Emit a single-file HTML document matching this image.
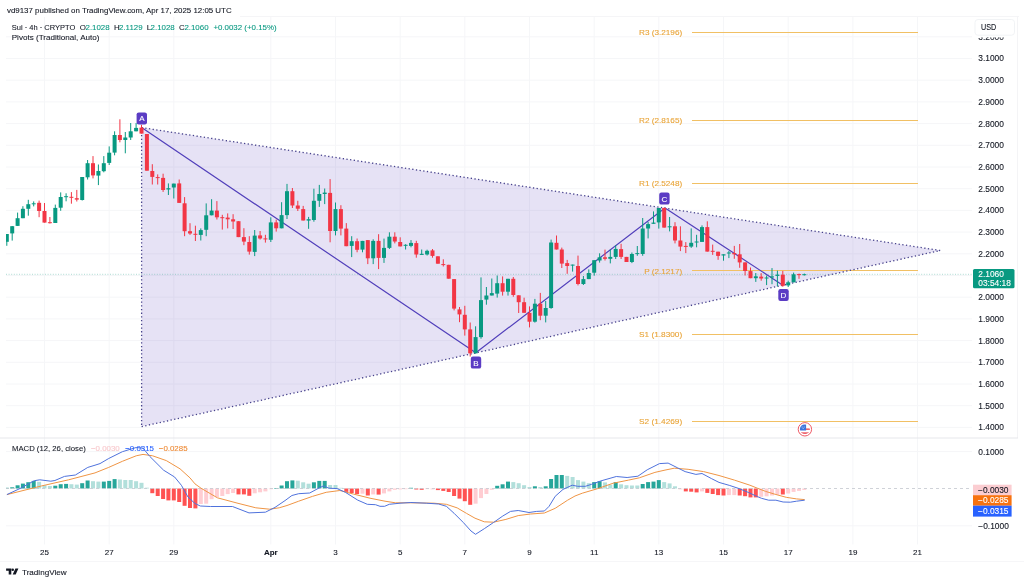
<!DOCTYPE html>
<html><head><meta charset="utf-8"><title>Sui 4h chart</title>
<style>
html,body{margin:0;padding:0;background:#fff;}
body{width:1024px;height:583px;overflow:hidden;position:relative;font-family:"Liberation Sans", Arial, sans-serif;}
svg{position:absolute;left:0;top:0;will-change:transform;}
svg text{font-family:"Liberation Sans", Arial, sans-serif;}
</style></head><body>
<svg width="1024" height="583" viewBox="0 0 1024 583">
<rect x="0" y="0" width="1024" height="583" fill="#fff"/>

<line x1="0" y1="561.5" x2="1024" y2="561.5" stroke="#f6f6f8" stroke-width="1"/>
<line x1="240" y1="16.5" x2="1019" y2="16.5" stroke="#f5f5f7" stroke-width="1"/>
<line x1="1017.5" y1="16" x2="1017.5" y2="438" stroke="#f4f4f6" stroke-width="1"/>
<line x1="6" y1="427.4" x2="972" y2="427.4" stroke="#f5f6f8" stroke-width="1"/>
<line x1="6" y1="405.7" x2="972" y2="405.7" stroke="#f5f6f8" stroke-width="1"/>
<line x1="6" y1="384.0" x2="972" y2="384.0" stroke="#f5f6f8" stroke-width="1"/>
<line x1="6" y1="362.3" x2="972" y2="362.3" stroke="#f5f6f8" stroke-width="1"/>
<line x1="6" y1="340.6" x2="972" y2="340.6" stroke="#f5f6f8" stroke-width="1"/>
<line x1="6" y1="318.9" x2="972" y2="318.9" stroke="#f5f6f8" stroke-width="1"/>
<line x1="6" y1="297.2" x2="972" y2="297.2" stroke="#f5f6f8" stroke-width="1"/>
<line x1="6" y1="275.5" x2="972" y2="275.5" stroke="#f5f6f8" stroke-width="1"/>
<line x1="6" y1="253.8" x2="972" y2="253.8" stroke="#f5f6f8" stroke-width="1"/>
<line x1="6" y1="232.1" x2="972" y2="232.1" stroke="#f5f6f8" stroke-width="1"/>
<line x1="6" y1="210.4" x2="972" y2="210.4" stroke="#f5f6f8" stroke-width="1"/>
<line x1="6" y1="188.7" x2="972" y2="188.7" stroke="#f5f6f8" stroke-width="1"/>
<line x1="6" y1="167.0" x2="972" y2="167.0" stroke="#f5f6f8" stroke-width="1"/>
<line x1="6" y1="145.3" x2="972" y2="145.3" stroke="#f5f6f8" stroke-width="1"/>
<line x1="6" y1="123.6" x2="972" y2="123.6" stroke="#f5f6f8" stroke-width="1"/>
<line x1="6" y1="101.9" x2="972" y2="101.9" stroke="#f5f6f8" stroke-width="1"/>
<line x1="6" y1="80.2" x2="972" y2="80.2" stroke="#f5f6f8" stroke-width="1"/>
<line x1="6" y1="58.5" x2="972" y2="58.5" stroke="#f5f6f8" stroke-width="1"/>
<line x1="6" y1="36.8" x2="972" y2="36.8" stroke="#f5f6f8" stroke-width="1"/>
<line x1="6" y1="451.6" x2="972" y2="451.6" stroke="#f5f6f8" stroke-width="1"/>
<line x1="6" y1="525.8" x2="972" y2="525.8" stroke="#f5f6f8" stroke-width="1"/>
<line x1="44.5" y1="17" x2="44.5" y2="544.5" stroke="#f5f6f8" stroke-width="1"/>
<line x1="109.2" y1="17" x2="109.2" y2="544.5" stroke="#f5f6f8" stroke-width="1"/>
<line x1="173.8" y1="17" x2="173.8" y2="544.5" stroke="#f5f6f8" stroke-width="1"/>
<line x1="270.8" y1="17" x2="270.8" y2="544.5" stroke="#f5f6f8" stroke-width="1"/>
<line x1="335.5" y1="17" x2="335.5" y2="544.5" stroke="#f5f6f8" stroke-width="1"/>
<line x1="400.2" y1="17" x2="400.2" y2="544.5" stroke="#f5f6f8" stroke-width="1"/>
<line x1="464.8" y1="17" x2="464.8" y2="544.5" stroke="#f5f6f8" stroke-width="1"/>
<line x1="529.5" y1="17" x2="529.5" y2="544.5" stroke="#f5f6f8" stroke-width="1"/>
<line x1="594.2" y1="17" x2="594.2" y2="544.5" stroke="#f5f6f8" stroke-width="1"/>
<line x1="658.8" y1="17" x2="658.8" y2="544.5" stroke="#f5f6f8" stroke-width="1"/>
<line x1="723.5" y1="17" x2="723.5" y2="544.5" stroke="#f5f6f8" stroke-width="1"/>
<line x1="788.2" y1="17" x2="788.2" y2="544.5" stroke="#f5f6f8" stroke-width="1"/>
<line x1="852.9" y1="17" x2="852.9" y2="544.5" stroke="#f5f6f8" stroke-width="1"/>
<line x1="917.5" y1="17" x2="917.5" y2="544.5" stroke="#f5f6f8" stroke-width="1"/>
<line x1="0" y1="438" x2="1018" y2="438" stroke="#e6e7eb" stroke-width="1"/>
<defs><clipPath id="mainclip"><rect x="6" y="17" width="966" height="420.5"/></clipPath><clipPath id="macdclip"><rect x="6" y="438.5" width="966" height="106"/></clipPath></defs>
<g clip-path="url(#mainclip)">
<polygon points="141.6,127.6 940.2,250.5 141.6,426.6" fill="rgb(88,62,188)" fill-opacity="0.15"/>
<line x1="692" y1="32.5" x2="918" y2="32.5" stroke="#f1c064" stroke-width="1"/>
<text x="682.2" y="35.3" font-size="8" fill="#e9a53a" stroke="#e9a53a" stroke-width="0.12" text-anchor="end" textLength="43.2" lengthAdjust="spacingAndGlyphs">R3 (3.2196)</text>
<line x1="692" y1="120.5" x2="918" y2="120.5" stroke="#f1c064" stroke-width="1"/>
<text x="682.2" y="122.8" font-size="8" fill="#e9a53a" stroke="#e9a53a" stroke-width="0.12" text-anchor="end" textLength="43.2" lengthAdjust="spacingAndGlyphs">R2 (2.8165)</text>
<line x1="692" y1="183.5" x2="918" y2="183.5" stroke="#f1c064" stroke-width="1"/>
<text x="682.2" y="186.1" font-size="8" fill="#e9a53a" stroke="#e9a53a" stroke-width="0.12" text-anchor="end" textLength="43.2" lengthAdjust="spacingAndGlyphs">R1 (2.5248)</text>
<line x1="692" y1="270.5" x2="918" y2="270.5" stroke="#f1c064" stroke-width="1"/>
<text x="682.2" y="273.6" font-size="8" fill="#e9a53a" stroke="#e9a53a" stroke-width="0.12" text-anchor="end" textLength="38" lengthAdjust="spacingAndGlyphs">P (2.1217)</text>
<line x1="692" y1="334.5" x2="918" y2="334.5" stroke="#f1c064" stroke-width="1"/>
<text x="682.2" y="336.9" font-size="8" fill="#e9a53a" stroke="#e9a53a" stroke-width="0.12" text-anchor="end" textLength="43.2" lengthAdjust="spacingAndGlyphs">S1 (1.8300)</text>
<line x1="692" y1="421.5" x2="918" y2="421.5" stroke="#f1c064" stroke-width="1"/>
<text x="682.2" y="424.4" font-size="8" fill="#e9a53a" stroke="#e9a53a" stroke-width="0.12" text-anchor="end" textLength="43.2" lengthAdjust="spacingAndGlyphs">S2 (1.4269)</text>
<line x1="6" y1="274.3" x2="972" y2="274.3" stroke="#3aa893" stroke-width="0.7" stroke-dasharray="1 1.6" opacity="0.6"/>
<line x1="141.6" y1="127.6" x2="940.2" y2="250.5" stroke="#47428c" stroke-width="1.3" stroke-dasharray="1.3 2.4"/>
<line x1="141.6" y1="426.6" x2="940.2" y2="250.5" stroke="#47428c" stroke-width="1.3" stroke-dasharray="1.3 2.4"/>
<line x1="141.6" y1="127.6" x2="141.6" y2="426.6" stroke="#47428c" stroke-width="1.3" stroke-dasharray="1.3 2.4"/>
<polyline points="141.6,127.6 475.8,352.8 665,207.9 782.8,285.2" fill="none" stroke="#5240bb" stroke-width="1.2"/>
<line x1="6.8" y1="234.0" x2="6.8" y2="245.8" stroke="#089981" stroke-width="1"/>
<rect x="4.8" y="234.0" width="4" height="7.8" fill="#089981"/>
<line x1="12.2" y1="226.0" x2="12.2" y2="240.6" stroke="#089981" stroke-width="1"/>
<rect x="10.2" y="226.2" width="4" height="7.2" fill="#089981"/>
<line x1="17.6" y1="212.6" x2="17.6" y2="226.0" stroke="#089981" stroke-width="1"/>
<rect x="15.6" y="218.2" width="4" height="7.7" fill="#089981"/>
<line x1="22.9" y1="206.2" x2="22.9" y2="218.2" stroke="#089981" stroke-width="1"/>
<rect x="20.9" y="208.8" width="4" height="9.4" fill="#089981"/>
<line x1="28.3" y1="199.8" x2="28.3" y2="215.7" stroke="#089981" stroke-width="1"/>
<rect x="26.3" y="204.2" width="4" height="4.6" fill="#089981"/>
<line x1="33.7" y1="201.4" x2="33.7" y2="206.4" stroke="#089981" stroke-width="1"/>
<rect x="31.7" y="203.3" width="4" height="1.0" fill="#089981"/>
<line x1="39.1" y1="200.6" x2="39.1" y2="217.2" stroke="#f23645" stroke-width="1"/>
<rect x="37.1" y="202.8" width="4" height="8.2" fill="#f23645"/>
<line x1="44.5" y1="203.0" x2="44.5" y2="222.6" stroke="#f23645" stroke-width="1"/>
<rect x="42.5" y="211.0" width="4" height="11.6" fill="#f23645"/>
<line x1="49.9" y1="217.0" x2="49.9" y2="223.5" stroke="#f23645" stroke-width="1"/>
<rect x="47.9" y="222.2" width="4" height="1.0" fill="#f23645"/>
<line x1="55.3" y1="204.6" x2="55.3" y2="223.0" stroke="#089981" stroke-width="1"/>
<rect x="53.3" y="207.9" width="4" height="15.1" fill="#089981"/>
<line x1="60.7" y1="192.4" x2="60.7" y2="210.8" stroke="#089981" stroke-width="1"/>
<rect x="58.7" y="197.0" width="4" height="10.7" fill="#089981"/>
<line x1="66.1" y1="193.3" x2="66.1" y2="201.3" stroke="#089981" stroke-width="1"/>
<rect x="64.1" y="196.2" width="4" height="1.0" fill="#089981"/>
<line x1="71.4" y1="192.1" x2="71.4" y2="203.7" stroke="#f23645" stroke-width="1"/>
<rect x="69.4" y="196.8" width="4" height="1.0" fill="#f23645"/>
<line x1="76.8" y1="189.9" x2="76.8" y2="201.5" stroke="#f23645" stroke-width="1"/>
<rect x="74.8" y="198.2" width="4" height="1.4" fill="#f23645"/>
<line x1="82.2" y1="177.0" x2="82.2" y2="200.5" stroke="#089981" stroke-width="1"/>
<rect x="80.2" y="177.0" width="4" height="23.0" fill="#089981"/>
<line x1="87.6" y1="160.0" x2="87.6" y2="179.5" stroke="#089981" stroke-width="1"/>
<rect x="85.6" y="163.2" width="4" height="14.1" fill="#089981"/>
<line x1="93.0" y1="156.1" x2="93.0" y2="178.4" stroke="#f23645" stroke-width="1"/>
<rect x="91.0" y="163.2" width="4" height="12.2" fill="#f23645"/>
<line x1="98.4" y1="164.5" x2="98.4" y2="185.1" stroke="#089981" stroke-width="1"/>
<rect x="96.4" y="171.0" width="4" height="4.6" fill="#089981"/>
<line x1="103.8" y1="156.1" x2="103.8" y2="172.3" stroke="#089981" stroke-width="1"/>
<rect x="101.8" y="163.2" width="4" height="8.0" fill="#089981"/>
<line x1="109.2" y1="146.4" x2="109.2" y2="165.0" stroke="#089981" stroke-width="1"/>
<rect x="107.2" y="152.7" width="4" height="10.2" fill="#089981"/>
<line x1="114.6" y1="131.3" x2="114.6" y2="155.3" stroke="#089981" stroke-width="1"/>
<rect x="112.6" y="135.0" width="4" height="17.6" fill="#089981"/>
<line x1="119.9" y1="119.3" x2="119.9" y2="142.3" stroke="#f23645" stroke-width="1"/>
<rect x="117.9" y="135.0" width="4" height="5.0" fill="#f23645"/>
<line x1="125.3" y1="132.0" x2="125.3" y2="153.3" stroke="#089981" stroke-width="1"/>
<rect x="123.3" y="137.5" width="4" height="2.5" fill="#089981"/>
<line x1="130.7" y1="123.0" x2="130.7" y2="140.0" stroke="#089981" stroke-width="1"/>
<rect x="128.7" y="131.3" width="4" height="6.2" fill="#089981"/>
<line x1="136.1" y1="123.0" x2="136.1" y2="131.3" stroke="#089981" stroke-width="1"/>
<rect x="134.1" y="127.9" width="4" height="3.4" fill="#089981"/>
<line x1="141.5" y1="124.8" x2="141.5" y2="133.6" stroke="#f23645" stroke-width="1"/>
<rect x="139.5" y="127.6" width="4" height="6.0" fill="#f23645"/>
<line x1="146.9" y1="134.0" x2="146.9" y2="170.7" stroke="#f23645" stroke-width="1"/>
<rect x="144.9" y="134.0" width="4" height="36.7" fill="#f23645"/>
<line x1="152.3" y1="164.2" x2="152.3" y2="184.5" stroke="#f23645" stroke-width="1"/>
<rect x="150.3" y="171.0" width="4" height="5.9" fill="#f23645"/>
<line x1="157.7" y1="174.4" x2="157.7" y2="184.5" stroke="#f23645" stroke-width="1"/>
<rect x="155.7" y="177.1" width="4" height="1.0" fill="#f23645"/>
<line x1="163.1" y1="173.7" x2="163.1" y2="191.9" stroke="#f23645" stroke-width="1"/>
<rect x="161.1" y="177.9" width="4" height="12.1" fill="#f23645"/>
<line x1="168.4" y1="183.4" x2="168.4" y2="195.0" stroke="#089981" stroke-width="1"/>
<rect x="166.4" y="188.2" width="4" height="1.3" fill="#089981"/>
<line x1="173.8" y1="183.6" x2="173.8" y2="198.5" stroke="#089981" stroke-width="1"/>
<rect x="171.8" y="183.6" width="4" height="3.9" fill="#089981"/>
<line x1="179.2" y1="179.5" x2="179.2" y2="202.9" stroke="#f23645" stroke-width="1"/>
<rect x="177.2" y="183.4" width="4" height="19.5" fill="#f23645"/>
<line x1="184.6" y1="197.1" x2="184.6" y2="236.2" stroke="#f23645" stroke-width="1"/>
<rect x="182.6" y="203.3" width="4" height="27.9" fill="#f23645"/>
<line x1="190.0" y1="223.2" x2="190.0" y2="234.9" stroke="#f23645" stroke-width="1"/>
<rect x="188.0" y="231.2" width="4" height="2.3" fill="#f23645"/>
<line x1="195.4" y1="225.7" x2="195.4" y2="241.0" stroke="#f23645" stroke-width="1"/>
<rect x="193.4" y="233.8" width="4" height="1.0" fill="#f23645"/>
<line x1="200.8" y1="228.4" x2="200.8" y2="240.5" stroke="#089981" stroke-width="1"/>
<rect x="198.8" y="230.1" width="4" height="4.8" fill="#089981"/>
<line x1="206.2" y1="203.4" x2="206.2" y2="236.2" stroke="#089981" stroke-width="1"/>
<rect x="204.2" y="215.3" width="4" height="14.5" fill="#089981"/>
<line x1="211.6" y1="199.2" x2="211.6" y2="215.3" stroke="#089981" stroke-width="1"/>
<rect x="209.6" y="210.6" width="4" height="4.7" fill="#089981"/>
<line x1="216.9" y1="201.1" x2="216.9" y2="219.5" stroke="#f23645" stroke-width="1"/>
<rect x="214.9" y="210.6" width="4" height="6.7" fill="#f23645"/>
<line x1="222.3" y1="214.8" x2="222.3" y2="229.6" stroke="#f23645" stroke-width="1"/>
<rect x="220.3" y="217.2" width="4" height="1.0" fill="#f23645"/>
<line x1="227.7" y1="213.4" x2="227.7" y2="228.4" stroke="#f23645" stroke-width="1"/>
<rect x="225.7" y="217.6" width="4" height="1.7" fill="#f23645"/>
<line x1="233.1" y1="214.2" x2="233.1" y2="229.0" stroke="#f23645" stroke-width="1"/>
<rect x="231.1" y="219.3" width="4" height="2.2" fill="#f23645"/>
<line x1="238.5" y1="221.2" x2="238.5" y2="237.1" stroke="#f23645" stroke-width="1"/>
<rect x="236.5" y="221.2" width="4" height="15.9" fill="#f23645"/>
<line x1="243.9" y1="228.2" x2="243.9" y2="245.2" stroke="#f23645" stroke-width="1"/>
<rect x="241.9" y="237.1" width="4" height="4.5" fill="#f23645"/>
<line x1="249.3" y1="236.2" x2="249.3" y2="254.6" stroke="#f23645" stroke-width="1"/>
<rect x="247.3" y="242.0" width="4" height="9.6" fill="#f23645"/>
<line x1="254.7" y1="230.0" x2="254.7" y2="256.1" stroke="#089981" stroke-width="1"/>
<rect x="252.7" y="235.6" width="4" height="16.3" fill="#089981"/>
<line x1="260.1" y1="231.0" x2="260.1" y2="239.6" stroke="#f23645" stroke-width="1"/>
<rect x="258.1" y="235.4" width="4" height="3.1" fill="#f23645"/>
<line x1="265.4" y1="234.8" x2="265.4" y2="242.6" stroke="#f23645" stroke-width="1"/>
<rect x="263.4" y="238.4" width="4" height="1.0" fill="#f23645"/>
<line x1="270.8" y1="217.3" x2="270.8" y2="242.0" stroke="#089981" stroke-width="1"/>
<rect x="268.8" y="222.4" width="4" height="17.4" fill="#089981"/>
<line x1="276.2" y1="219.6" x2="276.2" y2="231.6" stroke="#f23645" stroke-width="1"/>
<rect x="274.2" y="222.4" width="4" height="5.9" fill="#f23645"/>
<line x1="281.6" y1="202.2" x2="281.6" y2="228.3" stroke="#089981" stroke-width="1"/>
<rect x="279.6" y="215.1" width="4" height="13.2" fill="#089981"/>
<line x1="287.0" y1="183.9" x2="287.0" y2="219.0" stroke="#089981" stroke-width="1"/>
<rect x="285.0" y="191.2" width="4" height="23.9" fill="#089981"/>
<line x1="292.4" y1="188.0" x2="292.4" y2="208.0" stroke="#f23645" stroke-width="1"/>
<rect x="290.4" y="191.2" width="4" height="14.3" fill="#f23645"/>
<line x1="297.8" y1="200.8" x2="297.8" y2="211.0" stroke="#f23645" stroke-width="1"/>
<rect x="295.8" y="205.5" width="4" height="3.2" fill="#f23645"/>
<line x1="303.2" y1="205.9" x2="303.2" y2="220.5" stroke="#f23645" stroke-width="1"/>
<rect x="301.2" y="209.1" width="4" height="11.4" fill="#f23645"/>
<line x1="308.6" y1="216.9" x2="308.6" y2="228.8" stroke="#089981" stroke-width="1"/>
<rect x="306.6" y="219.2" width="4" height="1.4" fill="#089981"/>
<line x1="313.9" y1="188.7" x2="313.9" y2="221.7" stroke="#089981" stroke-width="1"/>
<rect x="311.9" y="200.8" width="4" height="19.2" fill="#089981"/>
<line x1="319.3" y1="184.9" x2="319.3" y2="206.9" stroke="#089981" stroke-width="1"/>
<rect x="317.3" y="194.0" width="4" height="6.8" fill="#089981"/>
<line x1="324.7" y1="188.5" x2="324.7" y2="204.1" stroke="#089981" stroke-width="1"/>
<rect x="322.7" y="192.6" width="4" height="1.4" fill="#089981"/>
<line x1="330.1" y1="179.1" x2="330.1" y2="242.3" stroke="#f23645" stroke-width="1"/>
<rect x="328.1" y="192.9" width="4" height="38.1" fill="#f23645"/>
<line x1="335.5" y1="202.5" x2="335.5" y2="235.4" stroke="#089981" stroke-width="1"/>
<rect x="333.5" y="209.1" width="4" height="21.9" fill="#089981"/>
<line x1="340.9" y1="205.2" x2="340.9" y2="235.4" stroke="#f23645" stroke-width="1"/>
<rect x="338.9" y="209.1" width="4" height="19.5" fill="#f23645"/>
<line x1="346.3" y1="223.1" x2="346.3" y2="246.2" stroke="#f23645" stroke-width="1"/>
<rect x="344.3" y="228.6" width="4" height="17.6" fill="#f23645"/>
<line x1="351.7" y1="236.2" x2="351.7" y2="257.1" stroke="#089981" stroke-width="1"/>
<rect x="349.7" y="241.2" width="4" height="4.7" fill="#089981"/>
<line x1="357.1" y1="238.5" x2="357.1" y2="252.3" stroke="#f23645" stroke-width="1"/>
<rect x="355.1" y="241.2" width="4" height="8.6" fill="#f23645"/>
<line x1="362.5" y1="240.9" x2="362.5" y2="252.3" stroke="#089981" stroke-width="1"/>
<rect x="360.5" y="240.9" width="4" height="8.7" fill="#089981"/>
<line x1="367.8" y1="240.1" x2="367.8" y2="264.1" stroke="#f23645" stroke-width="1"/>
<rect x="365.8" y="240.1" width="4" height="18.2" fill="#f23645"/>
<line x1="373.2" y1="239.3" x2="373.2" y2="264.1" stroke="#089981" stroke-width="1"/>
<rect x="371.2" y="240.9" width="4" height="17.4" fill="#089981"/>
<line x1="378.6" y1="234.2" x2="378.6" y2="269.1" stroke="#f23645" stroke-width="1"/>
<rect x="376.6" y="240.9" width="4" height="17.0" fill="#f23645"/>
<line x1="384.0" y1="238.6" x2="384.0" y2="262.9" stroke="#089981" stroke-width="1"/>
<rect x="382.0" y="247.9" width="4" height="10.0" fill="#089981"/>
<line x1="389.4" y1="232.3" x2="389.4" y2="249.0" stroke="#089981" stroke-width="1"/>
<rect x="387.4" y="236.7" width="4" height="11.2" fill="#089981"/>
<line x1="394.8" y1="232.3" x2="394.8" y2="243.4" stroke="#f23645" stroke-width="1"/>
<rect x="392.8" y="236.7" width="4" height="4.8" fill="#f23645"/>
<line x1="400.2" y1="237.3" x2="400.2" y2="246.4" stroke="#f23645" stroke-width="1"/>
<rect x="398.2" y="242.0" width="4" height="4.4" fill="#f23645"/>
<line x1="405.6" y1="244.2" x2="405.6" y2="249.5" stroke="#089981" stroke-width="1"/>
<rect x="403.6" y="244.8" width="4" height="1.0" fill="#089981"/>
<line x1="411.0" y1="240.1" x2="411.0" y2="247.3" stroke="#089981" stroke-width="1"/>
<rect x="409.0" y="242.9" width="4" height="3.0" fill="#089981"/>
<line x1="416.3" y1="240.8" x2="416.3" y2="257.7" stroke="#f23645" stroke-width="1"/>
<rect x="414.3" y="243.1" width="4" height="11.4" fill="#f23645"/>
<line x1="421.7" y1="249.5" x2="421.7" y2="254.9" stroke="#089981" stroke-width="1"/>
<rect x="419.7" y="253.8" width="4" height="1.1" fill="#089981"/>
<line x1="427.1" y1="249.7" x2="427.1" y2="255.5" stroke="#089981" stroke-width="1"/>
<rect x="425.1" y="250.8" width="4" height="3.7" fill="#089981"/>
<line x1="432.5" y1="249.0" x2="432.5" y2="257.7" stroke="#f23645" stroke-width="1"/>
<rect x="430.5" y="250.4" width="4" height="5.5" fill="#f23645"/>
<line x1="437.9" y1="256.3" x2="437.9" y2="263.7" stroke="#f23645" stroke-width="1"/>
<rect x="435.9" y="256.3" width="4" height="7.4" fill="#f23645"/>
<line x1="443.3" y1="259.3" x2="443.3" y2="266.5" stroke="#f23645" stroke-width="1"/>
<rect x="441.3" y="264.1" width="4" height="1.0" fill="#f23645"/>
<line x1="448.7" y1="264.8" x2="448.7" y2="278.7" stroke="#f23645" stroke-width="1"/>
<rect x="446.7" y="264.8" width="4" height="13.9" fill="#f23645"/>
<line x1="454.1" y1="279.1" x2="454.1" y2="310.4" stroke="#f23645" stroke-width="1"/>
<rect x="452.1" y="279.1" width="4" height="29.5" fill="#f23645"/>
<line x1="459.5" y1="307.0" x2="459.5" y2="322.2" stroke="#f23645" stroke-width="1"/>
<rect x="457.5" y="309.4" width="4" height="5.0" fill="#f23645"/>
<line x1="464.8" y1="305.8" x2="464.8" y2="335.6" stroke="#f23645" stroke-width="1"/>
<rect x="462.8" y="314.8" width="4" height="14.6" fill="#f23645"/>
<line x1="470.2" y1="322.5" x2="470.2" y2="356.5" stroke="#f23645" stroke-width="1"/>
<rect x="468.2" y="329.4" width="4" height="23.9" fill="#f23645"/>
<line x1="475.6" y1="326.3" x2="475.6" y2="353.3" stroke="#089981" stroke-width="1"/>
<rect x="473.6" y="337.1" width="4" height="16.2" fill="#089981"/>
<line x1="481.0" y1="277.4" x2="481.0" y2="338.7" stroke="#089981" stroke-width="1"/>
<rect x="479.0" y="300.1" width="4" height="37.0" fill="#089981"/>
<line x1="486.4" y1="287.0" x2="486.4" y2="304.7" stroke="#089981" stroke-width="1"/>
<rect x="484.4" y="295.5" width="4" height="4.1" fill="#089981"/>
<line x1="491.8" y1="278.5" x2="491.8" y2="295.5" stroke="#089981" stroke-width="1"/>
<rect x="489.8" y="293.1" width="4" height="2.4" fill="#089981"/>
<line x1="497.2" y1="275.5" x2="497.2" y2="297.6" stroke="#089981" stroke-width="1"/>
<rect x="495.2" y="283.2" width="4" height="10.4" fill="#089981"/>
<line x1="502.6" y1="276.4" x2="502.6" y2="295.6" stroke="#f23645" stroke-width="1"/>
<rect x="500.6" y="283.2" width="4" height="8.5" fill="#f23645"/>
<line x1="508.0" y1="278.8" x2="508.0" y2="295.6" stroke="#089981" stroke-width="1"/>
<rect x="506.0" y="278.8" width="4" height="12.9" fill="#089981"/>
<line x1="513.3" y1="277.0" x2="513.3" y2="296.8" stroke="#f23645" stroke-width="1"/>
<rect x="511.3" y="278.8" width="4" height="16.2" fill="#f23645"/>
<line x1="518.7" y1="295.3" x2="518.7" y2="313.0" stroke="#f23645" stroke-width="1"/>
<rect x="516.7" y="295.3" width="4" height="6.9" fill="#f23645"/>
<line x1="524.1" y1="297.7" x2="524.1" y2="312.8" stroke="#f23645" stroke-width="1"/>
<rect x="522.1" y="302.2" width="4" height="10.6" fill="#f23645"/>
<line x1="529.5" y1="306.4" x2="529.5" y2="327.4" stroke="#f23645" stroke-width="1"/>
<rect x="527.5" y="312.8" width="4" height="8.9" fill="#f23645"/>
<line x1="534.9" y1="298.9" x2="534.9" y2="322.6" stroke="#089981" stroke-width="1"/>
<rect x="532.9" y="303.7" width="4" height="18.0" fill="#089981"/>
<line x1="540.3" y1="292.9" x2="540.3" y2="320.2" stroke="#f23645" stroke-width="1"/>
<rect x="538.3" y="303.7" width="4" height="12.0" fill="#f23645"/>
<line x1="545.7" y1="301.0" x2="545.7" y2="322.4" stroke="#089981" stroke-width="1"/>
<rect x="543.7" y="308.0" width="4" height="7.7" fill="#089981"/>
<line x1="551.1" y1="239.6" x2="551.1" y2="308.8" stroke="#089981" stroke-width="1"/>
<rect x="549.1" y="242.5" width="4" height="65.5" fill="#089981"/>
<line x1="556.5" y1="235.5" x2="556.5" y2="249.5" stroke="#f23645" stroke-width="1"/>
<rect x="554.5" y="242.8" width="4" height="6.7" fill="#f23645"/>
<line x1="561.8" y1="247.6" x2="561.8" y2="268.0" stroke="#f23645" stroke-width="1"/>
<rect x="559.8" y="249.5" width="4" height="14.1" fill="#f23645"/>
<line x1="567.2" y1="259.9" x2="567.2" y2="273.8" stroke="#f23645" stroke-width="1"/>
<rect x="565.2" y="263.1" width="4" height="2.9" fill="#f23645"/>
<line x1="572.6" y1="264.6" x2="572.6" y2="271.6" stroke="#089981" stroke-width="1"/>
<rect x="570.6" y="264.6" width="4" height="1.0" fill="#089981"/>
<line x1="578.0" y1="255.6" x2="578.0" y2="285.4" stroke="#f23645" stroke-width="1"/>
<rect x="576.0" y="266.0" width="4" height="18.0" fill="#f23645"/>
<line x1="583.4" y1="276.0" x2="583.4" y2="285.0" stroke="#089981" stroke-width="1"/>
<rect x="581.4" y="279.1" width="4" height="4.9" fill="#089981"/>
<line x1="588.8" y1="269.4" x2="588.8" y2="279.1" stroke="#089981" stroke-width="1"/>
<rect x="586.8" y="273.0" width="4" height="6.1" fill="#089981"/>
<line x1="594.2" y1="260.2" x2="594.2" y2="275.7" stroke="#089981" stroke-width="1"/>
<rect x="592.2" y="260.2" width="4" height="12.5" fill="#089981"/>
<line x1="599.6" y1="253.3" x2="599.6" y2="262.6" stroke="#089981" stroke-width="1"/>
<rect x="597.6" y="257.3" width="4" height="3.2" fill="#089981"/>
<line x1="605.0" y1="249.6" x2="605.0" y2="260.5" stroke="#f23645" stroke-width="1"/>
<rect x="603.0" y="257.3" width="4" height="1.5" fill="#f23645"/>
<line x1="610.3" y1="249.6" x2="610.3" y2="263.4" stroke="#089981" stroke-width="1"/>
<rect x="608.3" y="256.9" width="4" height="1.9" fill="#089981"/>
<line x1="615.7" y1="245.2" x2="615.7" y2="259.0" stroke="#089981" stroke-width="1"/>
<rect x="613.7" y="248.9" width="4" height="8.0" fill="#089981"/>
<line x1="621.1" y1="243.8" x2="621.1" y2="259.0" stroke="#f23645" stroke-width="1"/>
<rect x="619.1" y="249.1" width="4" height="7.8" fill="#f23645"/>
<line x1="626.5" y1="256.9" x2="626.5" y2="262.0" stroke="#f23645" stroke-width="1"/>
<rect x="624.5" y="256.9" width="4" height="5.1" fill="#f23645"/>
<line x1="631.9" y1="252.5" x2="631.9" y2="263.1" stroke="#089981" stroke-width="1"/>
<rect x="629.9" y="254.0" width="4" height="8.0" fill="#089981"/>
<line x1="637.3" y1="246.0" x2="637.3" y2="255.8" stroke="#089981" stroke-width="1"/>
<rect x="635.3" y="253.1" width="4" height="1.0" fill="#089981"/>
<line x1="642.7" y1="218.0" x2="642.7" y2="255.8" stroke="#089981" stroke-width="1"/>
<rect x="640.7" y="228.5" width="4" height="25.5" fill="#089981"/>
<line x1="648.1" y1="221.9" x2="648.1" y2="238.4" stroke="#089981" stroke-width="1"/>
<rect x="646.1" y="224.1" width="4" height="4.4" fill="#089981"/>
<line x1="653.5" y1="211.4" x2="653.5" y2="223.8" stroke="#089981" stroke-width="1"/>
<rect x="651.5" y="222.6" width="4" height="1.2" fill="#089981"/>
<line x1="658.8" y1="208.0" x2="658.8" y2="228.6" stroke="#089981" stroke-width="1"/>
<rect x="656.8" y="208.0" width="4" height="14.4" fill="#089981"/>
<line x1="664.2" y1="207.4" x2="664.2" y2="227.6" stroke="#f23645" stroke-width="1"/>
<rect x="662.2" y="208.0" width="4" height="19.6" fill="#f23645"/>
<line x1="669.6" y1="217.0" x2="669.6" y2="231.4" stroke="#089981" stroke-width="1"/>
<rect x="667.6" y="226.3" width="4" height="1.0" fill="#089981"/>
<line x1="675.0" y1="222.2" x2="675.0" y2="243.4" stroke="#f23645" stroke-width="1"/>
<rect x="673.0" y="226.3" width="4" height="14.2" fill="#f23645"/>
<line x1="680.4" y1="226.3" x2="680.4" y2="251.1" stroke="#f23645" stroke-width="1"/>
<rect x="678.4" y="240.5" width="4" height="6.1" fill="#f23645"/>
<line x1="685.8" y1="242.1" x2="685.8" y2="253.1" stroke="#f23645" stroke-width="1"/>
<rect x="683.8" y="245.9" width="4" height="1.0" fill="#f23645"/>
<line x1="691.2" y1="228.4" x2="691.2" y2="247.9" stroke="#089981" stroke-width="1"/>
<rect x="689.2" y="242.8" width="4" height="3.8" fill="#089981"/>
<line x1="696.6" y1="234.8" x2="696.6" y2="247.3" stroke="#089981" stroke-width="1"/>
<rect x="694.6" y="241.5" width="4" height="1.0" fill="#089981"/>
<line x1="702.0" y1="225.4" x2="702.0" y2="241.9" stroke="#089981" stroke-width="1"/>
<rect x="700.0" y="227.1" width="4" height="14.8" fill="#089981"/>
<line x1="707.3" y1="221.3" x2="707.3" y2="251.6" stroke="#f23645" stroke-width="1"/>
<rect x="705.3" y="227.1" width="4" height="24.5" fill="#f23645"/>
<line x1="712.7" y1="244.6" x2="712.7" y2="254.9" stroke="#f23645" stroke-width="1"/>
<rect x="710.7" y="250.8" width="4" height="1.0" fill="#f23645"/>
<line x1="718.1" y1="251.7" x2="718.1" y2="259.8" stroke="#f23645" stroke-width="1"/>
<rect x="716.1" y="251.7" width="4" height="4.2" fill="#f23645"/>
<line x1="723.5" y1="254.3" x2="723.5" y2="260.7" stroke="#089981" stroke-width="1"/>
<rect x="721.5" y="254.3" width="4" height="1.2" fill="#089981"/>
<line x1="728.9" y1="251.0" x2="728.9" y2="258.1" stroke="#089981" stroke-width="1"/>
<rect x="726.9" y="252.5" width="4" height="1.0" fill="#089981"/>
<line x1="734.3" y1="245.9" x2="734.3" y2="258.8" stroke="#f23645" stroke-width="1"/>
<rect x="732.3" y="253.0" width="4" height="1.3" fill="#f23645"/>
<line x1="739.7" y1="244.0" x2="739.7" y2="267.8" stroke="#f23645" stroke-width="1"/>
<rect x="737.7" y="254.3" width="4" height="8.1" fill="#f23645"/>
<line x1="745.1" y1="262.4" x2="745.1" y2="275.5" stroke="#f23645" stroke-width="1"/>
<rect x="743.1" y="262.4" width="4" height="8.6" fill="#f23645"/>
<line x1="750.5" y1="267.5" x2="750.5" y2="278.2" stroke="#f23645" stroke-width="1"/>
<rect x="748.5" y="271.1" width="4" height="7.1" fill="#f23645"/>
<line x1="755.8" y1="273.0" x2="755.8" y2="281.9" stroke="#089981" stroke-width="1"/>
<rect x="753.8" y="276.3" width="4" height="1.9" fill="#089981"/>
<line x1="761.2" y1="273.1" x2="761.2" y2="280.7" stroke="#f23645" stroke-width="1"/>
<rect x="759.2" y="276.6" width="4" height="1.9" fill="#f23645"/>
<line x1="766.6" y1="275.5" x2="766.6" y2="285.1" stroke="#089981" stroke-width="1"/>
<rect x="764.6" y="277.5" width="4" height="1.0" fill="#089981"/>
<line x1="772.0" y1="268.1" x2="772.0" y2="284.2" stroke="#089981" stroke-width="1"/>
<rect x="770.0" y="276.4" width="4" height="1.1" fill="#089981"/>
<line x1="777.4" y1="270.6" x2="777.4" y2="286.3" stroke="#089981" stroke-width="1"/>
<rect x="775.4" y="274.7" width="4" height="1.2" fill="#089981"/>
<line x1="782.8" y1="270.9" x2="782.8" y2="286.8" stroke="#f23645" stroke-width="1"/>
<rect x="780.8" y="274.7" width="4" height="11.1" fill="#f23645"/>
<line x1="788.2" y1="280.7" x2="788.2" y2="287.0" stroke="#089981" stroke-width="1"/>
<rect x="786.2" y="282.3" width="4" height="3.1" fill="#089981"/>
<line x1="793.6" y1="272.6" x2="793.6" y2="282.3" stroke="#089981" stroke-width="1"/>
<rect x="791.6" y="274.3" width="4" height="8.0" fill="#089981"/>
<line x1="799.0" y1="273.6" x2="799.0" y2="278.8" stroke="#f23645" stroke-width="1"/>
<rect x="797.0" y="274.1" width="4" height="1.0" fill="#f23645"/>
<line x1="804.3" y1="273.6" x2="804.3" y2="275.5" stroke="#089981" stroke-width="1"/>
<rect x="802.3" y="274.2" width="4" height="1.0" fill="#089981"/>
<rect x="136.6" y="112.4" width="10.4" height="12" rx="2.2" fill="#5b3cc4"/>
<text x="141.8" y="121.3" font-size="8" fill="#fff" text-anchor="middle" stroke="#fff" stroke-width="0.1">A</text>
<rect x="470.8" y="356.6" width="10.4" height="12" rx="2.2" fill="#5b3cc4"/>
<text x="476.0" y="365.5" font-size="8" fill="#fff" text-anchor="middle" stroke="#fff" stroke-width="0.1">B</text>
<rect x="659.2" y="192.6" width="10.4" height="12" rx="2.2" fill="#5b3cc4"/>
<text x="664.4" y="201.5" font-size="8" fill="#fff" text-anchor="middle" stroke="#fff" stroke-width="0.1">C</text>
<rect x="778.3" y="289.0" width="10.4" height="12" rx="2.2" fill="#5b3cc4"/>
<text x="783.5" y="297.9" font-size="8" fill="#fff" text-anchor="middle" stroke="#fff" stroke-width="0.1">D</text>
<g transform="translate(804.9,429.3)">
<circle r="6.7" fill="#fff" stroke="#ee5a66" stroke-width="1"/>
<clipPath id="fc"><circle r="5"/></clipPath>
<g clip-path="url(#fc)">
<rect x="-5" y="-5" width="10" height="10" fill="#fff"/>
<rect x="-5" y="-0.8" width="10" height="1.3" fill="#e8404c"/>
<rect x="-5" y="3.1" width="10" height="1.4" fill="#e8404c"/>
<rect x="-5" y="-5" width="6.2" height="6.2" fill="#3d74dc"/>
<circle cx="-2.8" cy="-2.2" r="0.5" fill="#cfe0ff"/><circle cx="-0.8" cy="-2.2" r="0.5" fill="#cfe0ff"/><circle cx="-1.8" cy="-0.8" r="0.5" fill="#cfe0ff"/>
</g></g>
</g>
<g clip-path="url(#macdclip)">
<rect x="4.8" y="487.8" width="4" height="0.7" fill="#26a69a"/>
<rect x="10.2" y="487.3" width="4" height="1.2" fill="#26a69a"/>
<rect x="15.6" y="485.3" width="4" height="3.2" fill="#26a69a"/>
<rect x="20.9" y="483.6" width="4" height="4.9" fill="#26a69a"/>
<rect x="26.3" y="482.2" width="4" height="6.3" fill="#26a69a"/>
<rect x="31.7" y="480.9" width="4" height="7.6" fill="#26a69a"/>
<rect x="37.1" y="481.8" width="4" height="6.7" fill="#b2dfdb"/>
<rect x="42.5" y="485.3" width="4" height="3.2" fill="#b2dfdb"/>
<rect x="47.9" y="486.0" width="4" height="2.5" fill="#b2dfdb"/>
<rect x="53.3" y="485.7" width="4" height="2.8" fill="#26a69a"/>
<rect x="58.7" y="484.2" width="4" height="4.3" fill="#26a69a"/>
<rect x="64.1" y="483.9" width="4" height="4.6" fill="#26a69a"/>
<rect x="69.4" y="484.2" width="4" height="4.3" fill="#b2dfdb"/>
<rect x="74.8" y="484.6" width="4" height="3.9" fill="#b2dfdb"/>
<rect x="80.2" y="483.2" width="4" height="5.3" fill="#26a69a"/>
<rect x="85.6" y="480.5" width="4" height="8.0" fill="#26a69a"/>
<rect x="91.0" y="481.2" width="4" height="7.3" fill="#b2dfdb"/>
<rect x="96.4" y="481.6" width="4" height="6.9" fill="#b2dfdb"/>
<rect x="101.8" y="481.6" width="4" height="6.9" fill="#26a69a"/>
<rect x="107.2" y="480.9" width="4" height="7.6" fill="#26a69a"/>
<rect x="112.6" y="479.1" width="4" height="9.4" fill="#26a69a"/>
<rect x="117.9" y="479.5" width="4" height="9.0" fill="#b2dfdb"/>
<rect x="123.3" y="480.0" width="4" height="8.5" fill="#b2dfdb"/>
<rect x="128.7" y="480.0" width="4" height="8.5" fill="#b2dfdb"/>
<rect x="134.1" y="481.2" width="4" height="7.3" fill="#b2dfdb"/>
<rect x="139.5" y="482.8" width="4" height="5.7" fill="#b2dfdb"/>
<rect x="144.9" y="487.7" width="4" height="0.8" fill="#b2dfdb"/>
<rect x="150.3" y="488.5" width="4" height="4.7" fill="#ff5252"/>
<rect x="155.7" y="488.5" width="4" height="7.5" fill="#ff5252"/>
<rect x="161.1" y="488.5" width="4" height="10.5" fill="#ff5252"/>
<rect x="166.4" y="488.5" width="4" height="11.9" fill="#ff5252"/>
<rect x="171.8" y="488.5" width="4" height="11.9" fill="#ff5252"/>
<rect x="177.2" y="488.5" width="4" height="13.5" fill="#ff5252"/>
<rect x="182.6" y="488.5" width="4" height="17.3" fill="#ff5252"/>
<rect x="188.0" y="488.5" width="4" height="19.5" fill="#ff5252"/>
<rect x="193.4" y="488.5" width="4" height="19.9" fill="#ff5252"/>
<rect x="198.8" y="488.5" width="4" height="15.5" fill="#ffcdd2"/>
<rect x="204.2" y="488.5" width="4" height="15.2" fill="#ffcdd2"/>
<rect x="209.6" y="488.5" width="4" height="10.7" fill="#ffcdd2"/>
<rect x="214.9" y="488.5" width="4" height="8.6" fill="#ffcdd2"/>
<rect x="220.3" y="488.5" width="4" height="7.5" fill="#ffcdd2"/>
<rect x="225.7" y="488.5" width="4" height="5.6" fill="#ffcdd2"/>
<rect x="231.1" y="488.5" width="4" height="4.5" fill="#ffcdd2"/>
<rect x="236.5" y="488.5" width="4" height="5.9" fill="#ff5252"/>
<rect x="241.9" y="488.5" width="4" height="5.9" fill="#ff5252"/>
<rect x="247.3" y="488.5" width="4" height="7.3" fill="#ff5252"/>
<rect x="252.7" y="488.5" width="4" height="4.8" fill="#ffcdd2"/>
<rect x="258.1" y="488.5" width="4" height="3.8" fill="#ffcdd2"/>
<rect x="263.4" y="488.5" width="4" height="2.9" fill="#ffcdd2"/>
<rect x="268.8" y="488.5" width="4" height="0.7" fill="#ffcdd2"/>
<rect x="274.2" y="488.2" width="4" height="0.6" fill="#26a69a"/>
<rect x="279.6" y="485.5" width="4" height="3.0" fill="#26a69a"/>
<rect x="285.0" y="481.2" width="4" height="7.3" fill="#26a69a"/>
<rect x="290.4" y="480.4" width="4" height="8.1" fill="#26a69a"/>
<rect x="295.8" y="480.7" width="4" height="7.8" fill="#b2dfdb"/>
<rect x="301.2" y="482.3" width="4" height="6.2" fill="#b2dfdb"/>
<rect x="306.6" y="483.7" width="4" height="4.8" fill="#b2dfdb"/>
<rect x="311.9" y="482.3" width="4" height="6.2" fill="#26a69a"/>
<rect x="317.3" y="480.9" width="4" height="7.6" fill="#26a69a"/>
<rect x="322.7" y="480.9" width="4" height="7.6" fill="#26a69a"/>
<rect x="328.1" y="485.0" width="4" height="3.5" fill="#b2dfdb"/>
<rect x="333.5" y="485.0" width="4" height="3.5" fill="#b2dfdb"/>
<rect x="338.9" y="487.8" width="4" height="0.7" fill="#b2dfdb"/>
<rect x="344.3" y="488.5" width="4" height="3.4" fill="#ff5252"/>
<rect x="349.7" y="488.5" width="4" height="4.5" fill="#ff5252"/>
<rect x="355.1" y="488.5" width="4" height="5.6" fill="#ff5252"/>
<rect x="360.5" y="488.5" width="4" height="5.2" fill="#ffcdd2"/>
<rect x="365.8" y="488.5" width="4" height="7.0" fill="#ff5252"/>
<rect x="371.2" y="488.5" width="4" height="5.9" fill="#ffcdd2"/>
<rect x="376.6" y="488.5" width="4" height="6.1" fill="#ff5252"/>
<rect x="382.0" y="488.5" width="4" height="4.9" fill="#ffcdd2"/>
<rect x="387.4" y="488.5" width="4" height="2.9" fill="#ffcdd2"/>
<rect x="392.8" y="488.5" width="4" height="1.3" fill="#ffcdd2"/>
<rect x="398.2" y="488.5" width="4" height="0.9" fill="#ffcdd2"/>
<rect x="403.6" y="488.5" width="4" height="0.7" fill="#ffcdd2"/>
<rect x="409.0" y="487.8" width="4" height="0.7" fill="#26a69a"/>
<rect x="414.3" y="488.5" width="4" height="1.0" fill="#ff5252"/>
<rect x="419.7" y="488.5" width="4" height="1.3" fill="#ff5252"/>
<rect x="425.1" y="488.5" width="4" height="0.6" fill="#ffcdd2"/>
<rect x="430.5" y="488.5" width="4" height="0.9" fill="#ffcdd2"/>
<rect x="435.9" y="488.5" width="4" height="1.6" fill="#ff5252"/>
<rect x="441.3" y="488.5" width="4" height="2.4" fill="#ff5252"/>
<rect x="446.7" y="488.5" width="4" height="3.5" fill="#ff5252"/>
<rect x="452.1" y="488.5" width="4" height="7.5" fill="#ff5252"/>
<rect x="457.5" y="488.5" width="4" height="10.1" fill="#ff5252"/>
<rect x="462.8" y="488.5" width="4" height="12.7" fill="#ff5252"/>
<rect x="468.2" y="488.5" width="4" height="16.3" fill="#ff5252"/>
<rect x="473.6" y="488.5" width="4" height="15.2" fill="#ffcdd2"/>
<rect x="479.0" y="488.5" width="4" height="9.6" fill="#ffcdd2"/>
<rect x="484.4" y="488.5" width="4" height="5.5" fill="#ffcdd2"/>
<rect x="489.8" y="488.5" width="4" height="1.3" fill="#ffcdd2"/>
<rect x="495.2" y="485.8" width="4" height="2.7" fill="#26a69a"/>
<rect x="500.6" y="484.3" width="4" height="4.2" fill="#26a69a"/>
<rect x="506.0" y="481.6" width="4" height="6.9" fill="#26a69a"/>
<rect x="511.3" y="482.1" width="4" height="6.4" fill="#b2dfdb"/>
<rect x="516.7" y="483.2" width="4" height="5.3" fill="#b2dfdb"/>
<rect x="522.1" y="485.2" width="4" height="3.3" fill="#b2dfdb"/>
<rect x="527.5" y="487.0" width="4" height="1.5" fill="#b2dfdb"/>
<rect x="532.9" y="486.3" width="4" height="2.2" fill="#26a69a"/>
<rect x="538.3" y="487.0" width="4" height="1.5" fill="#b2dfdb"/>
<rect x="543.7" y="486.3" width="4" height="2.2" fill="#26a69a"/>
<rect x="549.1" y="479.0" width="4" height="9.5" fill="#26a69a"/>
<rect x="554.5" y="475.0" width="4" height="13.5" fill="#26a69a"/>
<rect x="559.8" y="475.0" width="4" height="13.5" fill="#26a69a"/>
<rect x="565.2" y="475.9" width="4" height="12.6" fill="#b2dfdb"/>
<rect x="570.6" y="477.0" width="4" height="11.5" fill="#b2dfdb"/>
<rect x="576.0" y="480.1" width="4" height="8.4" fill="#b2dfdb"/>
<rect x="581.4" y="481.6" width="4" height="6.9" fill="#b2dfdb"/>
<rect x="586.8" y="483.2" width="4" height="5.3" fill="#b2dfdb"/>
<rect x="592.2" y="482.1" width="4" height="6.4" fill="#26a69a"/>
<rect x="597.6" y="481.2" width="4" height="7.3" fill="#26a69a"/>
<rect x="603.0" y="482.4" width="4" height="6.1" fill="#b2dfdb"/>
<rect x="608.3" y="484.7" width="4" height="3.8" fill="#b2dfdb"/>
<rect x="613.7" y="482.1" width="4" height="6.4" fill="#26a69a"/>
<rect x="619.1" y="484.3" width="4" height="4.2" fill="#b2dfdb"/>
<rect x="624.5" y="485.2" width="4" height="3.3" fill="#b2dfdb"/>
<rect x="629.9" y="485.5" width="4" height="3.0" fill="#b2dfdb"/>
<rect x="635.3" y="485.5" width="4" height="3.0" fill="#b2dfdb"/>
<rect x="640.7" y="484.0" width="4" height="4.5" fill="#26a69a"/>
<rect x="646.1" y="482.1" width="4" height="6.4" fill="#26a69a"/>
<rect x="651.5" y="481.6" width="4" height="6.9" fill="#26a69a"/>
<rect x="656.8" y="480.1" width="4" height="8.4" fill="#26a69a"/>
<rect x="662.2" y="482.1" width="4" height="6.4" fill="#b2dfdb"/>
<rect x="667.6" y="483.4" width="4" height="5.1" fill="#b2dfdb"/>
<rect x="673.0" y="486.3" width="4" height="2.2" fill="#b2dfdb"/>
<rect x="678.4" y="488.5" width="4" height="0.9" fill="#ffcdd2"/>
<rect x="683.8" y="488.5" width="4" height="2.9" fill="#ff5252"/>
<rect x="689.2" y="488.5" width="4" height="3.2" fill="#ff5252"/>
<rect x="694.6" y="488.5" width="4" height="3.9" fill="#ff5252"/>
<rect x="700.0" y="488.5" width="4" height="2.9" fill="#ffcdd2"/>
<rect x="705.3" y="488.5" width="4" height="4.4" fill="#ff5252"/>
<rect x="710.7" y="488.5" width="4" height="5.5" fill="#ff5252"/>
<rect x="716.1" y="488.5" width="4" height="6.6" fill="#ff5252"/>
<rect x="721.5" y="488.5" width="4" height="7.0" fill="#ff5252"/>
<rect x="726.9" y="488.5" width="4" height="6.6" fill="#ffcdd2"/>
<rect x="732.3" y="488.5" width="4" height="6.6" fill="#ffcdd2"/>
<rect x="737.7" y="488.5" width="4" height="7.0" fill="#ff5252"/>
<rect x="743.1" y="488.5" width="4" height="7.7" fill="#ff5252"/>
<rect x="748.5" y="488.5" width="4" height="8.9" fill="#ff5252"/>
<rect x="753.8" y="488.5" width="4" height="8.9" fill="#ff5252"/>
<rect x="759.2" y="488.5" width="4" height="8.3" fill="#ffcdd2"/>
<rect x="764.6" y="488.5" width="4" height="7.8" fill="#ffcdd2"/>
<rect x="770.0" y="488.5" width="4" height="7.0" fill="#ffcdd2"/>
<rect x="775.4" y="488.5" width="4" height="6.3" fill="#ffcdd2"/>
<rect x="780.8" y="488.5" width="4" height="6.0" fill="#ff5252"/>
<rect x="786.2" y="488.5" width="4" height="5.0" fill="#ffcdd2"/>
<rect x="791.6" y="488.5" width="4" height="3.4" fill="#ffcdd2"/>
<rect x="797.0" y="488.5" width="4" height="2.4" fill="#ffcdd2"/>
<rect x="802.3" y="488.5" width="4" height="1.4" fill="#ffcdd2"/>
<line x1="6" y1="488.5" x2="972" y2="488.5" stroke="#c3c6ce" stroke-width="0.8" stroke-dasharray="3 3"/>
<polyline points="6.9,494.6 41.2,486 68.6,479.8 95,472.9 108.7,467.4 122.4,461.3 136.2,455.8 143,454.4 152.6,455.8 166.3,460.6 180,468.8 190,477.9 195,483.9 201,488.2 217.4,497.8 238,503.3 255.8,507.8 269.6,509.2 279.2,507.8 287,505.5 298.7,501.2 312.4,496.4 326.2,492.3 339.9,490.5 353.6,494.1 370,498.2 385,501.2 395.4,502.8 410.9,502.8 434,503.2 446.4,504.3 457.2,507.9 466.4,513.3 475,518.2 484.3,521.8 493.5,522.2 505.9,519.4 518.2,515.6 530.6,514 544.4,513 555.2,508.3 567.6,500.2 575,496 582.3,493.2 597.8,488.6 613.2,483.2 628.6,480.1 639.4,477.8 654.9,472.4 665,470.1 674.3,468.2 688.1,469.3 703.6,471.6 719,475.5 734.4,480.1 749.9,485.2 757.6,488.3 765.6,491.4 775.9,494.5 786.2,497.3 796.5,498.9 804.7,499.6" fill="none" stroke="#ef9545" stroke-width="1" stroke-linejoin="round"/>
<polyline points="6.9,494.6 20,488.5 34.3,480.7 39.8,479.8 50.8,481.2 54.9,480.5 64.5,476.4 75.4,475 87.8,467.4 95,465.2 100,463.6 108.7,458.5 122.4,451.7 136.2,447.5 143,448.2 149.9,456.5 163.6,470.2 174.6,477 181.4,485.3 188,497 195,503.5 200.3,506 210.6,506.5 232.5,506.5 249,512.9 265.4,512.2 275,507.4 285,500.6 291.9,495.5 298.7,493.7 309.7,493 317.9,488.6 323.4,485.9 328.9,488.2 337.1,488.6 345.4,492.3 357.7,500.1 367.3,504.3 375.5,504.7 380,506.3 384.6,506.3 389.3,504.3 400,503.2 410.9,502.5 426.3,503.2 438.6,504 446.4,506.3 454.1,513.3 463.3,522.5 471,531 475.5,534.3 484.3,528.7 493.5,522.5 502.8,516 510.5,511.4 518.2,510.5 529,512.5 536.7,511.4 544.4,511 549.1,506.3 555.2,496.3 563,489.4 572.2,485.2 577.7,486.3 585.4,486.3 591.6,484.3 600.9,480.9 616.3,476.5 627.1,477.5 637.9,476.2 647.2,469.8 659.5,463.6 668.1,463.1 677.3,467.7 685.1,471.6 695.9,474.4 702,473.5 711.3,478.5 719,482.4 729.8,485.5 739.1,488.6 748.3,492.4 757.4,496.6 761.5,498.3 768.7,500.2 775.9,500.2 783.1,502 790.3,502.2 796.5,501.2 804.7,500.2" fill="none" stroke="#4f72dc" stroke-width="1" stroke-linejoin="round"/>
</g>
<text x="978.3" y="430.3" font-size="8.4" fill="#131722" stroke="#131722" stroke-width="0.1">1.4000</text>
<text x="978.3" y="408.6" font-size="8.4" fill="#131722" stroke="#131722" stroke-width="0.1">1.5000</text>
<text x="978.3" y="386.9" font-size="8.4" fill="#131722" stroke="#131722" stroke-width="0.1">1.6000</text>
<text x="978.3" y="365.2" font-size="8.4" fill="#131722" stroke="#131722" stroke-width="0.1">1.7000</text>
<text x="978.3" y="343.5" font-size="8.4" fill="#131722" stroke="#131722" stroke-width="0.1">1.8000</text>
<text x="978.3" y="321.8" font-size="8.4" fill="#131722" stroke="#131722" stroke-width="0.1">1.9000</text>
<text x="978.3" y="300.1" font-size="8.4" fill="#131722" stroke="#131722" stroke-width="0.1">2.0000</text>
<text x="978.3" y="256.7" font-size="8.4" fill="#131722" stroke="#131722" stroke-width="0.1">2.2000</text>
<text x="978.3" y="235.0" font-size="8.4" fill="#131722" stroke="#131722" stroke-width="0.1">2.3000</text>
<text x="978.3" y="213.3" font-size="8.4" fill="#131722" stroke="#131722" stroke-width="0.1">2.4000</text>
<text x="978.3" y="191.6" font-size="8.4" fill="#131722" stroke="#131722" stroke-width="0.1">2.5000</text>
<text x="978.3" y="169.9" font-size="8.4" fill="#131722" stroke="#131722" stroke-width="0.1">2.6000</text>
<text x="978.3" y="148.2" font-size="8.4" fill="#131722" stroke="#131722" stroke-width="0.1">2.7000</text>
<text x="978.3" y="126.5" font-size="8.4" fill="#131722" stroke="#131722" stroke-width="0.1">2.8000</text>
<text x="978.3" y="104.8" font-size="8.4" fill="#131722" stroke="#131722" stroke-width="0.1">2.9000</text>
<text x="978.3" y="83.1" font-size="8.4" fill="#131722" stroke="#131722" stroke-width="0.1">3.0000</text>
<text x="978.3" y="61.4" font-size="8.4" fill="#131722" stroke="#131722" stroke-width="0.1">3.1000</text>
<text x="978.3" y="39.7" font-size="8.4" fill="#131722" stroke="#131722" stroke-width="0.1">3.2000</text>
<rect x="974" y="18" width="42" height="19.4" fill="#fff"/>
<rect x="975" y="19.5" width="39.5" height="15.7" rx="3" fill="#fff" stroke="#eef0f3" stroke-width="0.8"/>
<text x="981" y="30.3" font-size="8.2" fill="#131722" textLength="15.2" lengthAdjust="spacingAndGlyphs" stroke="#131722" stroke-width="0.1">USD</text>
<rect x="973" y="269.1" width="41.5" height="19.2" rx="1.5" fill="#089981"/>
<text x="978.3" y="277.2" font-size="8.4" fill="#fff" stroke="#fff" stroke-width="0.1">2.1060</text>
<text x="978.3" y="286.2" font-size="8.4" fill="#fff" stroke="#fff" stroke-width="0.1">03:54:18</text>
<text x="978.3" y="454.7" font-size="8.4" fill="#131722" stroke="#131722" stroke-width="0.1">0.1000</text>
<text x="978.3" y="529" font-size="8.4" fill="#131722" stroke="#131722" stroke-width="0.1">−0.1000</text>
<rect x="973" y="484.7" width="38.6" height="10.5" fill="#fbcdd1"/>
<text x="978" y="492.9" font-size="8.4" fill="#131722" stroke="#131722" stroke-width="0.1">−0.0030</text>
<rect x="973" y="495.2" width="38.6" height="10.5" fill="#f7720f"/>
<text x="978" y="503.4" font-size="8.4" fill="#fff" stroke="#fff" stroke-width="0.1">−0.0285</text>
<rect x="973" y="505.7" width="38.6" height="10.9" fill="#2962ff"/>
<text x="978" y="514" font-size="8.4" fill="#fff" stroke="#fff" stroke-width="0.1">−0.0315</text>
<text x="44.5" y="555.0" font-size="8" fill="#131722" text-anchor="middle" stroke="#131722" stroke-width="0.1">25</text>
<text x="109.2" y="555.0" font-size="8" fill="#131722" text-anchor="middle" stroke="#131722" stroke-width="0.1">27</text>
<text x="173.8" y="555.0" font-size="8" fill="#131722" text-anchor="middle" stroke="#131722" stroke-width="0.1">29</text>
<text x="270.8" y="555.0" font-size="8" fill="#131722" text-anchor="middle" font-weight="bold" stroke="#131722" stroke-width="0.1">Apr</text>
<text x="335.5" y="555.0" font-size="8" fill="#131722" text-anchor="middle" stroke="#131722" stroke-width="0.1">3</text>
<text x="400.2" y="555.0" font-size="8" fill="#131722" text-anchor="middle" stroke="#131722" stroke-width="0.1">5</text>
<text x="464.8" y="555.0" font-size="8" fill="#131722" text-anchor="middle" stroke="#131722" stroke-width="0.1">7</text>
<text x="529.5" y="555.0" font-size="8" fill="#131722" text-anchor="middle" stroke="#131722" stroke-width="0.1">9</text>
<text x="594.2" y="555.0" font-size="8" fill="#131722" text-anchor="middle" stroke="#131722" stroke-width="0.1">11</text>
<text x="658.8" y="555.0" font-size="8" fill="#131722" text-anchor="middle" stroke="#131722" stroke-width="0.1">13</text>
<text x="723.5" y="555.0" font-size="8" fill="#131722" text-anchor="middle" stroke="#131722" stroke-width="0.1">15</text>
<text x="788.2" y="555.0" font-size="8" fill="#131722" text-anchor="middle" stroke="#131722" stroke-width="0.1">17</text>
<text x="852.9" y="555.0" font-size="8" fill="#131722" text-anchor="middle" stroke="#131722" stroke-width="0.1">19</text>
<text x="917.5" y="555.0" font-size="8" fill="#131722" text-anchor="middle" stroke="#131722" stroke-width="0.1">21</text>
<text x="7" y="12.7" font-size="7.9" fill="#131722" stroke="#131722" stroke-width="0.1" textLength="224.6" lengthAdjust="spacingAndGlyphs">vd9137 published on TradingView.com, Apr 17, 2025 12:05 UTC</text>
<text x="11.7" y="29.7" font-size="7.9" fill="#131722" stroke="#131722" stroke-width="0.08" textLength="63.6" lengthAdjust="spacingAndGlyphs">Sui · 4h · CRYPTO</text>
<text x="79.7" y="29.7" font-size="7.9" fill="#131722" stroke="#131722" stroke-width="0.08">O</text>
<text x="85.5" y="29.7" font-size="7.9" fill="#089981" stroke="#089981" stroke-width="0.08">2.1028</text>
<text x="114.1" y="29.7" font-size="7.9" fill="#131722" stroke="#131722" stroke-width="0.08">H</text>
<text x="119" y="29.7" font-size="7.9" fill="#089981" stroke="#089981" stroke-width="0.08">2.1129</text>
<text x="146.8" y="29.7" font-size="7.9" fill="#131722" stroke="#131722" stroke-width="0.08">L</text>
<text x="150.6" y="29.7" font-size="7.9" fill="#089981" stroke="#089981" stroke-width="0.08">2.1028</text>
<text x="179" y="29.7" font-size="7.9" fill="#131722" stroke="#131722" stroke-width="0.08">C</text>
<text x="184.4" y="29.7" font-size="7.9" fill="#089981" stroke="#089981" stroke-width="0.08">2.1060</text>
<text x="213.4" y="29.7" font-size="7.9" fill="#089981" stroke="#089981" stroke-width="0.08">+0.0032 (+0.15%)</text>
<text x="11.7" y="40.2" font-size="7.9" fill="#131722" stroke="#131722" stroke-width="0.08" textLength="87.8" lengthAdjust="spacingAndGlyphs">Pivots (Traditional, Auto)</text>
<text x="12" y="451.3" font-size="7.9" fill="#131722" stroke="#131722" stroke-width="0.08" textLength="73.8" lengthAdjust="spacingAndGlyphs">MACD (12, 26, close)</text>
<text x="91" y="451.3" font-size="7.9" fill="#f8c9cd" stroke="#f8c9cd" stroke-width="0.1">−0.0030</text>
<text x="125.2" y="451.3" font-size="7.9" fill="#2962ff" stroke="#2962ff" stroke-width="0.1">−0.0315</text>
<text x="158.8" y="451.3" font-size="7.9" fill="#ee8a35" stroke="#ee8a35" stroke-width="0.1">−0.0285</text>
<g transform="translate(6.1,568.4)" fill="#131722">
<path d="M0 0 H5.2 V6.1 H2.6 V2.4 H0 Z"/>
<circle cx="6.6" cy="1.3" r="1.3"/>
<path d="M9.3 0 H12.3 L9.6 6.1 H6.6 Z"/>
</g>
<text x="22" y="574.7" font-size="8.1" fill="#131722" stroke="#131722" stroke-width="0.1">TradingView</text>
</svg></body></html>
